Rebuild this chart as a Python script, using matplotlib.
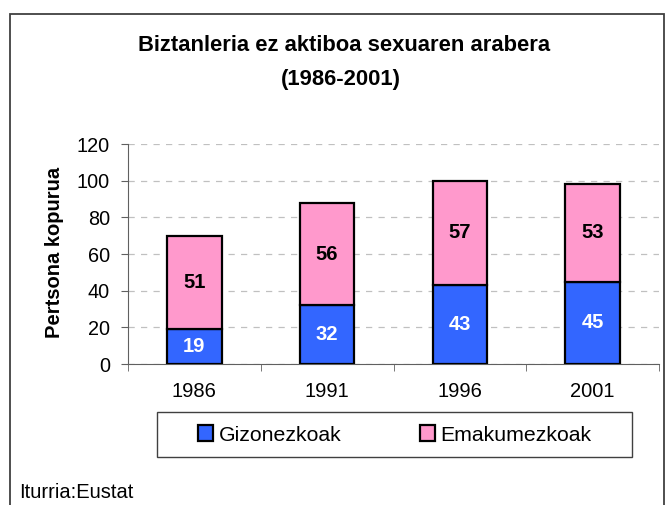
import numpy as np
import matplotlib
matplotlib.use('Agg')
import matplotlib.pyplot as plt
from matplotlib.patches import Rectangle

plt.rcParams['font.family'] = ['Liberation Sans', 'DejaVu Sans']

# ── Data ────────────────────────────────────────────────────────────────────
years = ['1986', '1991', '1996', '2001']
gizonezkoak = [19, 32, 43, 45]
emakumezkoak = [51, 56, 57, 53]
y_ticks = [0, 20, 40, 60, 80, 100, 120]

BLUE = '#3366FF'
PINK = '#FF99CC'

# ── Figure ──────────────────────────────────────────────────────────────────
fig = plt.figure(figsize=(6.65, 5.05), dpi=100, facecolor='white')
ax = fig.add_axes([128 / 665, 1 - 364 / 505, (659 - 128) / 665, (364 - 144) / 505])

# outer frame of the chart area (bottom edge runs off the image)
fig.patches.append(Rectangle((10 / 665, -0.05), 654 / 665, 1.05 - 14 / 505,
                             transform=fig.transFigure, fill=False,
                             edgecolor='#404040', linewidth=1.3))

x = np.arange(len(years))
w = 0.41
b1 = ax.bar(x, gizonezkoak, w, color=BLUE, edgecolor='black', linewidth=1.6,
            label='Gizonezkoak', zorder=3)
b2 = ax.bar(x, emakumezkoak, w, bottom=gizonezkoak, color=PINK, edgecolor='black',
            linewidth=1.6, label='Emakumezkoak', zorder=3)

for xi, g, e in zip(x, gizonezkoak, emakumezkoak):
    ax.text(xi, g / 2, str(g), ha='center', va='center', color='white',
            fontsize=14.5, fontweight='bold', zorder=4)
    ax.text(xi, g + e / 2, str(e), ha='center', va='center', color='black',
            fontsize=14.5, fontweight='bold', zorder=4)

ax.set_xlim(-0.5, len(years) - 0.5)
ax.set_ylim(0, 120)
ax.set_yticks(y_ticks)
ax.set_xticks(x)
ax.set_xticklabels(years)
ax.set_xticks(np.arange(len(years) + 1) - 0.5, minor=True)
ax.tick_params(axis='x', which='major', length=0, pad=13, labelsize=14.5)
ax.tick_params(axis='x', which='minor', length=5, color='#606060', direction='out')
ax.tick_params(axis='y', length=5, color='#606060', pad=8, labelsize=14.3)

ax.yaxis.grid(True, linestyle=(0, (5, 5)), color='#c0c0c0', linewidth=0.9, zorder=0)
ax.set_axisbelow(True)
for s in ['top', 'right']:
    ax.spines[s].set_visible(False)
ax.spines['left'].set_color('#606060')
ax.spines['bottom'].set_color('#606060')

fig.text(54 / 665, 1 - 252 / 505, 'Pertsona kopurua', rotation=90, ha='center',
         va='center', fontsize=14.5, fontweight='bold')

fig.text(344 / 665, 1 - 51 / 505, 'Biztanleria ez aktiboa sexuaren arabera',
         ha='center', va='baseline', fontsize=15.8, fontweight='bold')
fig.text(341 / 665, 1 - 85 / 505, '(1986-2001)',
         ha='center', va='baseline', fontsize=15.8, fontweight='bold')

# legend with its own box
fig.patches.append(Rectangle((157 / 665, 1 - 457 / 505), 475 / 665, 45 / 505,
                             transform=fig.transFigure, fill=False,
                             edgecolor='#404040', linewidth=1.0))
fig.legend(handles=[b1, b2], loc='center', bbox_to_anchor=(395 / 665, 1 - 435 / 505),
           ncol=2, frameon=False, fontsize=15.3, handlelength=0.72, handleheight=0.72,
           handletextpad=0.25, columnspacing=3.7)

fig.text(19 / 665, 1 - 498 / 505, 'Iturria:Eustat', ha='left', va='baseline', fontsize=14.5)

plt.savefig('out.png', dpi=100, facecolor='white')
